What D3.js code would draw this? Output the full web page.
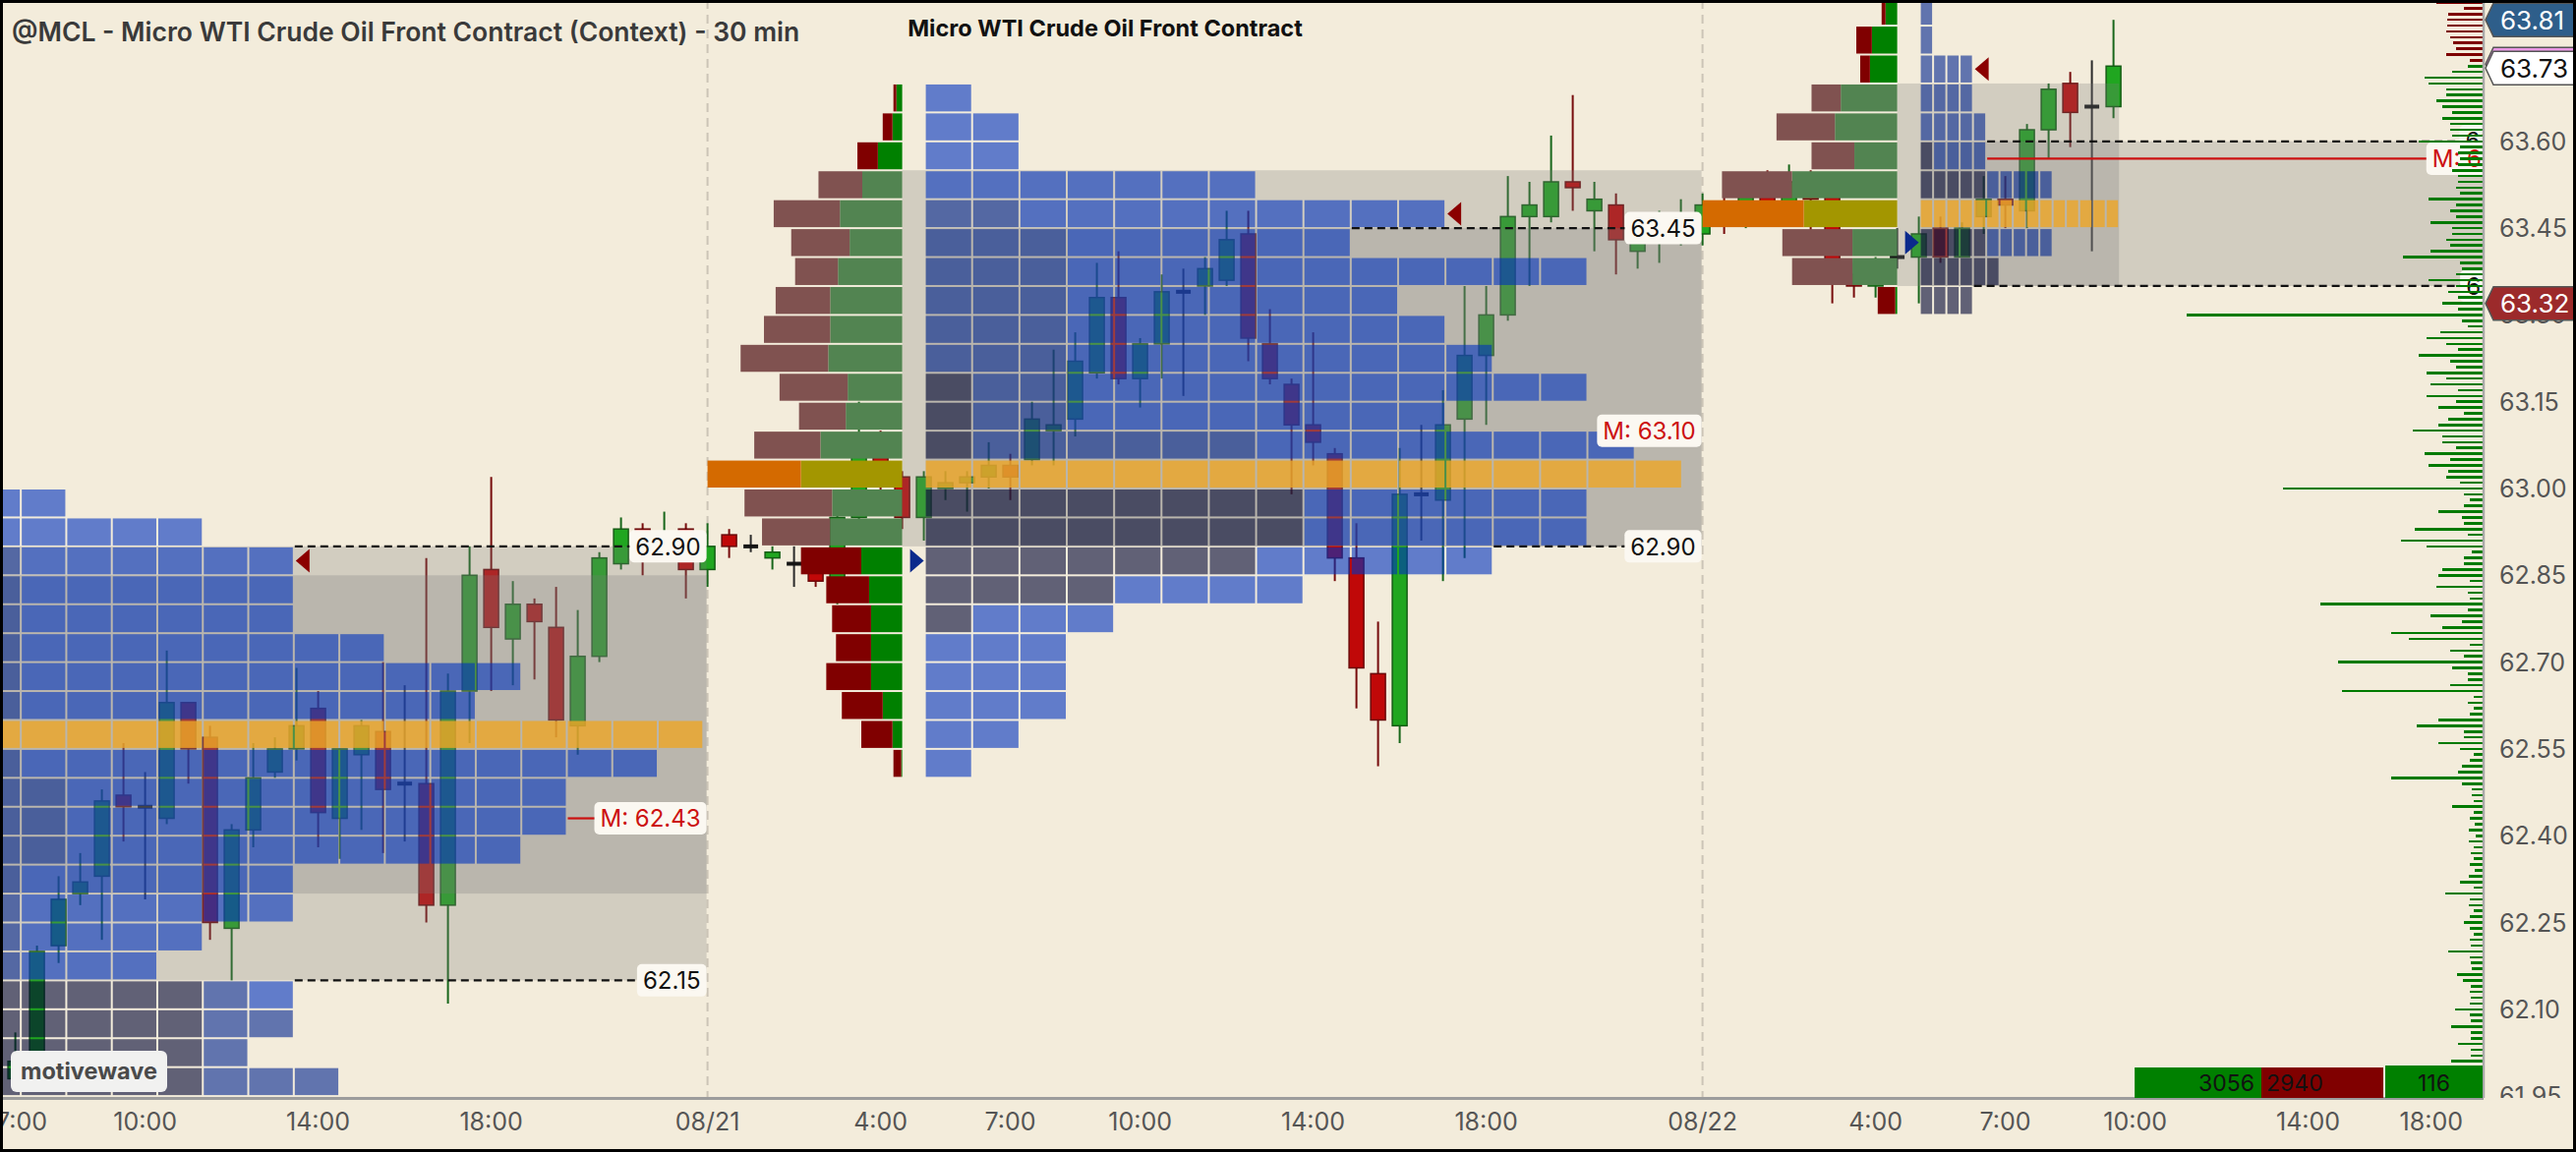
<!DOCTYPE html>
<html>
<head>
<meta charset="utf-8">
<script src="https://cdn.jsdelivr.net/npm/d3@7"></script>
<style>
  html, body { margin: 0; padding: 0; background: #f3ecdb; }
  svg { display: block; font-family: Inter, "Noto Sans", sans-serif; }
</style>
</head>
<body>
<svg id="chart"></svg>
<script>
// ---- data (times are trading hours from 08/21 00:00, 23:00-24:00 break skipped) ----
const barTime = d3.range(-16, 32.51, 0.5); // 30 min bars, 08/20 07:00 .. 08/22 09:30

const barOpen = [61.98, 62.00, 62.21, 62.30, 62.33, 62.47, 62.45, 62.43, 62.63, 62.57, 62.24, 62.41, 62.51, 62.55, 62.62, 62.43,
  62.54, 62.58, 62.49, 62.49, 62.28, 62.65, 62.86, 62.74, 62.80, 62.76, 62.59, 62.71, 62.87, 62.93, 62.90, 62.93,
  62.86, 62.92, 62.90, 62.88, 62.87, 62.88, 62.84, 62.95, 63.08, 63.02, 62.95, 63.00, 63.01, 63.02, 63.04, 63.05,
  63.10, 63.12, 63.20, 63.33, 63.19, 63.25, 63.34, 63.35, 63.36, 63.44, 63.25, 63.18, 63.11, 63.06, 62.88, 62.68,
  62.59, 62.99, 62.98, 63.12, 63.23, 63.30, 63.47, 63.47, 63.53, 63.48, 63.49, 63.41, 63.44, 63.45,
  63.44, 63.49, 63.47, 63.52, 63.49, 63.53, 63.51, 63.37, 63.35, 63.40, 63.40, 63.45, 63.40, 63.47, 63.50, 63.48,
  63.62, 63.70, 63.66, 63.66];
const barHigh = [62.06, 62.21, 62.33, 62.37, 62.48, 62.56, 62.51, 62.72, 62.63, 62.59, 62.42, 62.56, 62.57, 62.69, 62.65, 62.55,
  62.60, 62.70, 62.66, 62.88, 62.68, 62.90, 63.02, 62.84, 62.81, 62.83, 62.79, 62.89, 62.95, 62.94, 62.96, 62.94,
  62.94, 62.93, 62.92, 62.90, 62.90, 62.89, 62.97, 63.15, 63.10, 63.03, 63.03, 63.03, 63.03, 63.08, 63.06, 63.15,
  63.24, 63.27, 63.39, 63.41, 63.26, 63.37, 63.38, 63.40, 63.48, 63.48, 63.31, 63.19, 63.27, 63.07, 62.94, 62.77,
  63.07, 63.11, 63.17, 63.35, 63.35, 63.54, 63.53, 63.61, 63.68, 63.53, 63.51, 63.44, 63.48, 63.50,
  63.51, 63.52, 63.54, 63.55, 63.56, 63.55, 63.52, 63.39, 63.40, 63.45, 63.47, 63.47, 63.46, 63.54, 63.54, 63.63,
  63.70, 63.72, 63.74, 63.81];
const barLow = [61.97, 61.98, 62.18, 62.28, 62.22, 62.39, 62.29, 62.42, 62.49, 62.22, 62.15, 62.38, 62.50, 62.53, 62.38, 62.36,
  62.41, 62.37, 62.39, 62.25, 62.11, 62.56, 62.65, 62.66, 62.67, 62.57, 62.54, 62.70, 62.86, 62.85, 62.89, 62.81,
  62.83, 62.88, 62.89, 62.86, 62.83, 62.83, 62.80, 62.94, 62.98, 62.93, 62.91, 62.98, 62.96, 63.00, 62.98, 63.04,
  63.04, 63.09, 63.19, 63.18, 63.14, 63.19, 63.16, 63.30, 63.35, 63.22, 63.18, 62.99, 63.04, 62.84, 62.62, 62.52,
  62.56, 62.91, 62.84, 62.88, 63.11, 63.29, 63.35, 63.46, 63.48, 63.41, 63.37, 63.38, 63.39, 63.42,
  63.42, 63.44, 63.45, 63.47, 63.47, 63.44, 63.32, 63.33, 63.33, 63.38, 63.32, 63.39, 63.40, 63.44, 63.45, 63.45,
  63.57, 63.59, 63.41, 63.64];
const barClose = [62.01, 62.20, 62.29, 62.32, 62.46, 62.45, 62.45, 62.63, 62.55, 62.25, 62.41, 62.50, 62.55, 62.59, 62.44, 62.55,
  62.59, 62.48, 62.49, 62.28, 62.65, 62.85, 62.76, 62.80, 62.77, 62.60, 62.71, 62.88, 62.93, 62.88, 62.92, 62.86,
  62.90, 62.90, 62.90, 62.89, 62.87, 62.84, 62.95, 63.08, 63.02, 62.95, 63.02, 63.01, 63.02, 63.04, 63.02, 63.12,
  63.11, 63.22, 63.33, 63.19, 63.25, 63.34, 63.34, 63.38, 63.43, 63.26, 63.19, 63.11, 63.08, 62.88, 62.69, 62.60,
  62.99, 62.99, 63.11, 63.23, 63.30, 63.47, 63.49, 63.53, 63.52, 63.50, 63.43, 63.43, 63.46, 63.47,
  63.49, 63.47, 63.52, 63.49, 63.53, 63.50, 63.36, 63.35, 63.37, 63.40, 63.44, 63.40, 63.45, 63.50, 63.49, 63.62,
  63.69, 63.65, 63.66, 63.73];

// sessions
const sessionName = ['08/20', '08/21', '08/22'];
const sessionStart = [-23, 0, 23];
const sessionEnd = [0, 23, 46];
const tpoEnd = [-0.075, 22.55, 32.65];
const boxAEnd = [0, 23, 32.65];
const boxA = [[62.15, 62.90], [62.90, 63.55], [63.35, 63.70]];
const boxB = [[62.30, 62.85], [62.90, 63.45], [63.35, 63.60]];
const vaLine = [[62.90, 62.15], [63.45, 62.90], [63.60, 63.35]];
const midPrice = [62.43, 63.10, 63.57];
const pocPrice = [62.55, 63.00, 63.45];
const liveSession = 2;

// TPO block profiles (row low price, blocks, early dark blocks, medium blocks)
const tpoLow0820 = [62.95, 62.90, 62.85, 62.80, 62.75, 62.70, 62.65, 62.60, 62.55, 62.50, 62.45, 62.40, 62.35, 62.30, 62.25,
  62.20, 62.15, 62.10, 62.05, 62.00, 61.95, 61.90];
const tpoCount0820 = [3, 6, 8, 8, 8, 10, 13, 12, 17, 16, 14, 14, 13, 8, 8, 6, 5, 8, 8, 7, 9, 7];
const tpoDark0820 = [0, 0, 0, 0, 0, 0, 0, 0, 0, 0, 0, 0, 0, 0, 0, 0, 0, 6, 6, 6, 6, 6];
const tpoMid0820 = [0, 0, 2, 2, 2, 2, 2, 2, 0, 2, 3, 3, 3, 2, 2, 2, 2, 1, 2, 1, 3, 1];

const tpoLow0821 = [63.65, 63.60, 63.55, 63.50, 63.45, 63.40, 63.35, 63.30, 63.25, 63.20, 63.15, 63.10, 63.05, 63.00,
  62.95, 62.90, 62.85, 62.80, 62.75, 62.70, 62.65, 62.60, 62.55, 62.50];
const tpoCount0821 = [1, 2, 2, 7, 11, 9, 14, 10, 11, 12, 14, 11, 15, 16, 14, 14, 12, 8, 4, 3, 3, 3, 2, 1];
const tpoDark0821 = [0, 0, 0, 0, 0, 0, 0, 0, 0, 0, 1, 1, 1, 0, 8, 8, 7, 4, 1, 0, 0, 0, 0, 0];
const tpoMid0821 = [0, 0, 0, 0, 2, 3, 3, 3, 3, 3, 2, 2, 6, 0, 0, 0, 0, 0, 0, 0, 0, 0, 0, 0];

const tpoLow0822 = [63.80, 63.75, 63.70, 63.65, 63.60, 63.55, 63.50, 63.45, 63.40, 63.35, 63.30];
const tpoCount0822 = [1, 1, 4, 4, 5, 5, 10, 15, 10, 6, 4];
const tpoDark0822 = [0, 0, 0, 0, 0, 1, 5, 0, 5, 6, 4];
const tpoMid0822 = [1, 1, 4, 4, 5, 4, 5, 0, 5, 0, 0];

// buy / sell volume profiles
const vpLow0821 = tpoLow0821;
const vpSell0821 = [3, 10, 21, 45, 68, 60, 44, 56, 68, 90, 70, 48, 68, 96, 90, 70, 62, 44, 40, 36, 46, 42, 32, 8];
const vpBuy0821 = [6, 10, 25, 41, 64, 54, 66, 74, 74, 76, 56, 58, 84, 104, 72, 74, 42, 34, 32, 32, 32, 20, 10, 1];
const vpLow0822 = tpoLow0822;
const vpSell0822 = [4, 16, 10, 30, 60, 44, 72, 104, 72, 62, 18];
const vpBuy0822 = [12, 26, 28, 58, 64, 44, 108, 96, 46, 46, 2];

// volume at price ladder, 63.84 down to 61.95 in 0.01 steps
const ladderTop = 63.84;
const ladderVol = [47, 19, 35, 36, 36, 37, 33, 30, 27, 37, 13,
  15, 31, 59, 55, 37, 37, 47, 41, 31, 41, 33, 33, 31, 65, 23, 25, 23, 25, 31, 25, 25, 27, 23, 55, 27, 33, 27, 53, 31, 31,
  37, 33, 53, 81, 23, 21, 27, 55, 27, 35, 25, 41, 25, 301, 21,
  15, 43, 57, 37, 25, 65, 33, 27, 57, 37, 53, 25, 57, 27, 45, 19, 35, 45, 71, 41, 41, 27, 59, 33, 55, 35, 37, 23, 203, 19,
  13, 19, 45, 21, 19, 69, 15, 83, 57, 11, 19, 19, 41, 45, 13, 47, 15, 13, 165, 15, 53, 21, 41, 93, 75, 13, 33, 19, 147, 31,
  15, 15, 33, 143, 9, 15, 9, 13, 45, 67, 19, 19, 45, 23, 9, 13, 21, 25, 93, 21, 11, 11, 9, 31, 9,
  13, 8, 14, 7, 14, 9, 12, 9, 13, 8, 14, 23, 9, 38, 13, 14, 9, 13, 19, 13, 9, 13, 12, 35, 13, 12, 11, 26, 20, 12,
  13, 12, 13, 28, 13, 12, 32, 12, 12, 25, 12, 12, 32, 10, 8, 12, 9, 8, 10];
const lastPrice = 63.73;

const priceTicks = [63.60, 63.45, 63.30, 63.15, 63.00, 62.85, 62.70, 62.55, 62.40, 62.25, 62.10, 61.95];
const timeTickHour = [-16, -13, -9, -5, 0, 4, 7, 10, 14, 18, 23, 27, 30, 33, 37, 41];
const timeTickLabel = ['7:00', '10:00', '14:00', '18:00', '08/21', '4:00', '7:00', '10:00', '14:00', '18:00',
  '08/22', '4:00', '7:00', '10:00', '14:00', '18:00'];

const tagPrice = [63.81, 63.73, 63.32];
const tagFill = ['#2e5e8a', '#ffffff', '#9c2a2b'];
const tagInk = ['#ffffff', '#111111', '#ffffff'];

const statBuy = 3056, statSell = 2940, statDelta = 116;

// ---- layout ----
const W = 2620, H = 1172;
const plotRight = 2525, plotBottom = 1117;
const vpWidth = 198, vpGap = 24;
const rowStep = 0.05;

const x = d3.scaleLinear().domain([0, 23]).range([719.6, 719.6 + 23 * 44]);
const y = d3.scaleLinear().domain([61.95, 63.60]).range([1115.1, 143.8]);
const vpX = d3.scaleLinear().domain([0, 200]).range([0, vpWidth]);
const ladderX = d3.scaleLinear().domain([0, 301]).range([0, 301]);

const svg = d3.select('#chart').attr('width', W).attr('height', H);
svg.append('rect').attr('width', W).attr('height', H).attr('fill', '#f3ecdb');

const defs = svg.append('defs');
defs.append('clipPath').attr('id', 'plotClip')
  .append('rect').attr('x', 0).attr('y', 0).attr('width', plotRight).attr('height', plotBottom);
defs.append('clipPath').attr('id', 'axisClip')
  .append('rect').attr('x', plotRight).attr('y', 0).attr('width', W - plotRight).attr('height', plotBottom);

const plot = svg.append('g').attr('clip-path', 'url(#plotClip)');

// session separators
plot.selectAll('line.sess').data([0, 23]).join('line')
  .attr('x1', d => x(d)).attr('x2', d => x(d))
  .attr('y1', 0).attr('y2', plotBottom)
  .attr('stroke', '#cbc4b6').attr('stroke-width', 2).attr('stroke-dasharray', '9,6');

// ---- candles ----
const candles = barTime.map((t, i) => ({ t, o: barOpen[i], h: barHigh[i], l: barLow[i], c: barClose[i] }));
const isDoji = d => Math.abs(d.c - d.o) < 0.004;
const bodyW = (x(0.5) - x(0)) * 0.68;
const cg = plot.append('g');
cg.selectAll('line.wick').data(candles).join('line')
  .attr('x1', d => x(d.t)).attr('x2', d => x(d.t))
  .attr('y1', d => y(d.h)).attr('y2', d => y(d.l))
  .attr('stroke', d => isDoji(d) ? '#2a2a2a' : d.c > d.o ? '#17661a' : '#760b0b')
  .attr('stroke-width', 2);
cg.selectAll('rect.body').data(candles.filter(d => !isDoji(d))).join('rect')
  .attr('x', d => x(d.t) - bodyW / 2)
  .attr('y', d => y(Math.max(d.o, d.c)))
  .attr('width', bodyW)
  .attr('height', d => Math.max(3, Math.abs(y(d.o) - y(d.c))))
  .attr('fill', d => d.c > d.o ? '#20a620' : '#c00808')
  .attr('stroke', d => d.c > d.o ? '#145c14' : '#6a0808')
  .attr('stroke-width', 1.5);
cg.selectAll('line.doji').data(candles.filter(isDoji)).join('line')
  .attr('x1', d => x(d.t) - bodyW / 2).attr('x2', d => x(d.t) + bodyW / 2)
  .attr('y1', d => y(d.o)).attr('y2', d => y(d.o))
  .attr('stroke', '#151515').attr('stroke-width', 4);

// ---- helpers ----
const tpoSets = [
  { low: tpoLow0820, n: tpoCount0820, dark: tpoDark0820, mid: tpoMid0820 },
  { low: tpoLow0821, n: tpoCount0821, dark: tpoDark0821, mid: tpoMid0821 },
  { low: tpoLow0822, n: tpoCount0822, dark: tpoDark0822, mid: tpoMid0822 }
];
const vpSets = [null,
  { low: vpLow0821, sell: vpSell0821, buy: vpBuy0821 },
  { low: vpLow0822, sell: vpSell0822, buy: vpBuy0822 }];

const near = (a, b) => Math.abs(a - b) < 1e-6;
const profileRight = s => x(sessionStart[s]) + vpWidth;
const blockStart = s => profileRight(s) + vpGap;
const colWidth = s => (x(tpoEnd[s]) - blockStart(s)) / d3.max(tpoSets[s].n);
function rowEnd(s, low) {
  const set = tpoSets[s];
  const i = set.low.findIndex(v => near(v, low));
  const n = i < 0 ? 0 : set.n[i];
  return blockStart(s) + n * colWidth(s) - 2;
}
const rowBelow = p => Math.round((Math.ceil(p / rowStep - 1e-6) - 1) * rowStep * 100) / 100;
const rowOf = p => Math.round(Math.floor(p / rowStep + 1e-6) * rowStep * 100) / 100;
const rowTop = low => y(low + rowStep);
const rowH = low => y(low) - y(low + rowStep);

// ---- value area boxes (over candles) ----
const boxG = plot.append('g');
[0, 1, 2].forEach(s => {
  const xa0 = profileRight(s), xa1 = x(boxAEnd[s]) - 1;
  boxG.append('rect')
    .attr('x', xa0).attr('y', y(boxA[s][1])).attr('width', xa1 - xa0).attr('height', y(boxA[s][0]) - y(boxA[s][1]))
    .attr('fill', '#7a7a7a').attr('opacity', 0.27);
  const xb0 = blockStart(s), xb1 = s === liveSession ? plotRight : x(sessionEnd[s]) - 1;
  boxG.append('rect')
    .attr('x', xb0).attr('y', y(boxB[s][1])).attr('width', xb1 - xb0).attr('height', y(boxB[s][0]) - y(boxB[s][1]))
    .attr('fill', '#7a7a7a').attr('opacity', 0.27);
});

// ---- TPO blocks ----
const blockColor = { poc: '#eea625', dark: '#000532', mid: '#002590', blue: '#0032be' };
const blocks = [];
tpoSets.forEach((set, s) => {
  const x0 = blockStart(s), cw = colWidth(s);
  set.low.forEach((low, i) => {
    for (let j = 0; j < set.n[i]; j++) {
      let kind = 'blue';
      if (near(low, pocPrice[s])) kind = 'poc';
      else if (j < set.dark[i]) kind = 'dark';
      else if (j < set.dark[i] + set.mid[i]) kind = 'mid';
      blocks.push({ x: x0 + j * cw, w: cw - 2, low, kind });
    }
  });
});
plot.append('g').selectAll('rect').data(blocks).join('rect')
  .attr('x', d => d.x).attr('y', d => rowTop(d.low) + 1)
  .attr('width', d => d.w).attr('height', d => rowH(d.low) - 2)
  .attr('fill', d => blockColor[d.kind])
  .attr('opacity', d => d.kind === 'poc' ? 0.8 : 0.6);

// ---- buy / sell profiles ----
const vpG = plot.append('g');
vpSets.forEach((set, s) => {
  if (!set) return;
  const xr = profileRight(s);
  set.low.forEach((low, i) => {
    const poc = near(low, pocPrice[s]);
    const inVA = low >= boxA[s][0] - 1e-6 && low < boxA[s][1] - 1e-6;
    const buyCol = poc ? '#a39600' : inVA ? '#528451' : '#008000';
    const sellCol = poc ? '#d46a00' : inVA ? '#805250' : '#800000';
    const bw = vpX(set.buy[i]), sw = vpX(set.sell[i]);
    vpG.append('rect').attr('x', xr - bw).attr('y', rowTop(low) + 1).attr('width', bw).attr('height', rowH(low) - 2).attr('fill', buyCol);
    vpG.append('rect').attr('x', xr - bw - sw).attr('y', rowTop(low) + 1).attr('width', sw).attr('height', rowH(low) - 2).attr('fill', sellCol);
  });
});

// ---- open / close markers ----
const markG = plot.append('g');
[0, 1, 2].forEach(s => {
  const inS = candles.filter(d => d.t >= sessionStart[s] && d.t < sessionEnd[s]);
  const last = inS[inS.length - 1];
  const cRow = rowOf(last.c);
  const tip = rowEnd(s, cRow) + 3, yc = rowTop(cRow) + rowH(cRow) / 2;
  markG.append('path').attr('d', `M${tip},${yc}L${tip + 14},${yc - 12}L${tip + 14},${yc + 12}Z`).attr('fill', '#8b0000');
  if (s > 0) {
    const oRow = rowOf(inS[0].o);
    const b0 = blockStart(s) - 16, yo = rowTop(oRow) + rowH(oRow) / 2;
    markG.append('path').attr('d', `M${b0},${yo - 12}L${b0 + 14},${yo}L${b0},${yo + 12}Z`).attr('fill', '#0b2a8c');
  }
});

// ---- value area lines, midpoint and labels ----
const lblG = plot.append('g').attr('font-size', 24);
function labelBox(xRight, yc, text, ink) {
  const g = lblG.append('g');
  const r = g.append('rect').attr('fill', '#fbf8f1').attr('rx', 5);
  const t = g.append('text').text(text).attr('fill', ink).attr('y', yc).attr('dy', '0.36em');
  const w = t.node().getComputedTextLength() + 12;
  t.attr('x', xRight - w + 6);
  r.attr('x', xRight - w).attr('y', yc - 16.5).attr('width', w).attr('height', 33);
  return xRight - w;
}
[0, 1, 2].forEach(s => {
  const xRight = s === liveSession ? plotRight + 54 : x(sessionEnd[s]) - 1;
  vaLine[s].forEach(p => {
    const yy = y(p);
    const left = labelBox(xRight, yy, p.toFixed(2), '#111');
    const x0 = rowEnd(s, rowBelow(p)) + 2;
    lblG.append('line').attr('x1', x0).attr('x2', left).attr('y1', yy).attr('y2', yy)
      .attr('stroke', '#111').attr('stroke-width', 2.2).attr('stroke-dasharray', '8,5');
  });
  const ym = y(midPrice[s]);
  const mLeft = labelBox(xRight, ym, 'M: ' + midPrice[s].toFixed(2), '#cc1010');
  const mx0 = rowEnd(s, rowBelow(midPrice[s])) + 2;
  if (mLeft > mx0) {
    lblG.append('line').attr('x1', mx0).attr('x2', mLeft).attr('y1', ym).attr('y2', ym)
      .attr('stroke', '#cc1010').attr('stroke-width', 2.2);
  }
});

// ---- volume at price ladder ----
const ladder = ladderVol.map((v, i) => ({ p: Math.round((ladderTop - i * 0.01) * 100) / 100, v }));
plot.append('g').selectAll('rect').data(ladder).join('rect')
  .attr('x', d => plotRight - ladderX(d.v)).attr('y', d => y(d.p) - 1.3)
  .attr('width', d => ladderX(d.v)).attr('height', 2.6)
  .attr('fill', d => d.p > lastPrice + 1e-6 ? '#7d0000' : '#007a00')
  .attr('shape-rendering', 'crispEdges');

// ---- axes ----
svg.append('line').attr('x1', 0).attr('x2', plotRight + 1).attr('y1', plotBottom + 0.5).attr('y2', plotBottom + 0.5)
  .attr('stroke', '#9c9c9c').attr('stroke-width', 3);
svg.append('line').attr('x1', plotRight + 1).attr('x2', plotRight + 1).attr('y1', 0).attr('y2', plotBottom)
  .attr('stroke', '#a8a8a8').attr('stroke-width', 2.5);

const axG = svg.append('g').attr('clip-path', 'url(#axisClip)');
axG.selectAll('text').data(priceTicks).join('text')
  .attr('x', plotRight + 17).attr('y', d => y(d)).attr('dy', '0.36em')
  .attr('font-size', 25).attr('fill', '#555').text(d => d.toFixed(2));

const tagG = svg.append('g');
tagPrice.forEach((p, i) => {
  const yc = y(p) + (i === 1 ? 2 : 0);
  const shape = yy => `M${plotRight + 3},${yy}L${plotRight + 11},${yy - 17}L${W - 2},${yy - 17}L${W - 2},${yy + 17}L${plotRight + 11},${yy + 17}Z`;
  if (i === 1) tagG.append('path').attr('d', shape(yc - 4)).attr('fill', '#ea98e6').attr('stroke', '#555').attr('stroke-width', 1.5);
  tagG.append('path').attr('d', shape(yc)).attr('fill', tagFill[i]).attr('stroke', '#555').attr('stroke-width', 1.5);
  tagG.append('text').attr('x', plotRight + 18).attr('y', yc).attr('dy', '0.36em')
    .attr('font-size', 26).attr('fill', tagInk[i]).text(p.toFixed(2));
});

const tG = svg.append('g').attr('font-size', 25).attr('fill', '#555').attr('text-anchor', 'middle');
timeTickHour.forEach((h, i) => {
  const t = tG.append('text').attr('y', 1150).text(timeTickLabel[i]);
  const w = t.node().getComputedTextLength();
  const cx = Math.min(Math.max(x(h), w / 2 - 4), plotRight - 20 - w / 2);
  t.attr('x', cx);
});

// ---- stats box (buy / sell / delta) ----
const statK = 124 / statSell;
const deltaW = 99;
const sellX = plotRight - deltaW - 2 - statSell * statK;
const stG = svg.append('g').attr('font-size', 23).attr('fill', '#111');
stG.append('rect').attr('x', sellX - statBuy * statK).attr('y', 1086).attr('width', statBuy * statK).attr('height', plotBottom - 1086).attr('fill', '#008000');
stG.append('rect').attr('x', sellX).attr('y', 1086).attr('width', statSell * statK).attr('height', plotBottom - 1086).attr('fill', '#800000');
stG.append('rect').attr('x', plotRight - deltaW).attr('y', 1084).attr('width', deltaW).attr('height', plotBottom - 1084).attr('fill', '#008000');
stG.append('text').attr('x', sellX - 7).attr('y', 1110).attr('text-anchor', 'end').text(statBuy);
stG.append('text').attr('x', sellX + 5).attr('y', 1110).text(statSell);
stG.append('text').attr('x', plotRight - deltaW / 2).attr('y', 1110).attr('text-anchor', 'middle').text(statDelta);

// ---- titles ----
svg.append('text').attr('x', 12).attr('y', 42).attr('font-size', 26.5).attr('font-weight', 600).attr('fill', '#3a3a3a')
  .text('@MCL - Micro WTI Crude Oil Front Contract (Context) - 30 min');
svg.append('text').attr('x', 1124).attr('y', 37).attr('font-size', 23.5).attr('font-weight', 700).attr('fill', '#111')
  .attr('text-anchor', 'middle').text('Micro WTI Crude Oil Front Contract');

const mw = svg.append('g');
mw.append('rect').attr('x', 11).attr('y', 1069).attr('width', 159).attr('height', 42).attr('rx', 6).attr('fill', '#f1f1f0');
mw.append('text').attr('x', 90.5).attr('y', 1098).attr('text-anchor', 'middle').attr('font-size', 23.5)
  .attr('font-weight', 700).attr('fill', '#4a4a4a').text('motivewave');

svg.append('rect').attr('x', 1.5).attr('y', 1.5).attr('width', W - 3).attr('height', H - 3)
  .attr('fill', 'none').attr('stroke', '#000').attr('stroke-width', 3);
</script>
</body>
</html>
